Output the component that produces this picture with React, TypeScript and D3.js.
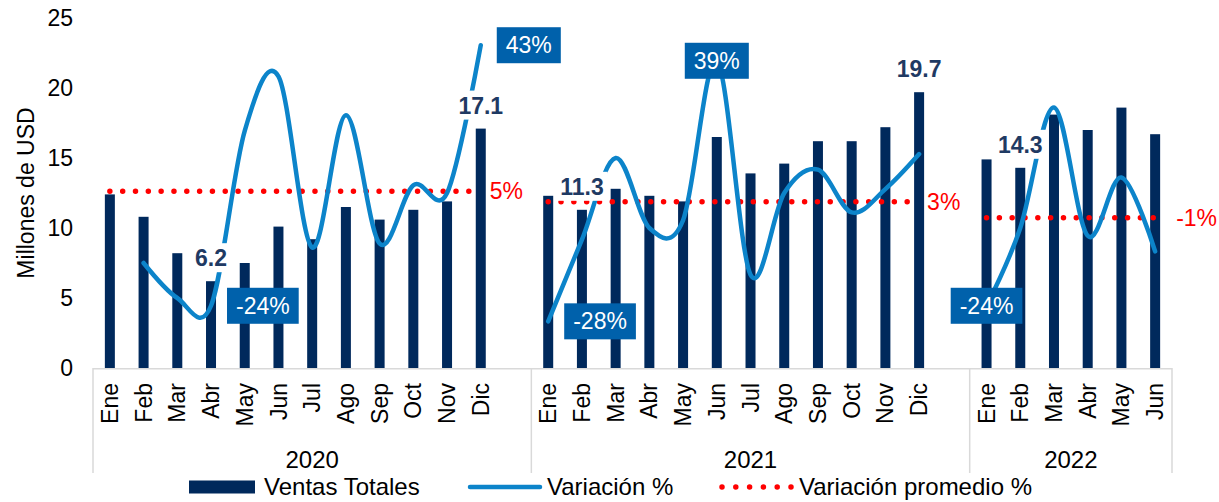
import React from "react";
import * as d3 from "d3";

// ---------- data ----------
const years = ["2020", "2021", "2022"];
const months2020 = ["Ene", "Feb", "Mar", "Abr", "May", "Jun", "Jul", "Ago", "Sep", "Oct", "Nov", "Dic"];
const months2021 = ["Ene", "Feb", "Mar", "Abr", "May", "Jun", "Jul", "Ago", "Sep", "Oct", "Nov", "Dic"];
const months2022 = ["Ene", "Feb", "Mar", "Abr", "May", "Jun"];

const sales2020 = [12.4, 10.8, 8.2, 6.2, 7.5, 10.1, 9.2, 11.5, 10.6, 11.3, 11.9, 17.1];
const sales2021 = [12.3, 11.3, 12.8, 12.3, 11.9, 16.5, 13.9, 14.6, 16.2, 16.2, 17.2, 19.7];
const sales2022 = [14.9, 14.3, 18.1, 17.0, 18.6, 16.7];

const variation2020: (number | null)[] = [null, -0.13, -0.22, -0.24, 0.21, 0.35, -0.09, 0.25, -0.08, 0.07, 0.05, 0.43];
const variation2021: (number | null)[] = [-0.28, -0.07, 0.14, -0.04, -0.02, 0.39, -0.16, 0.05, 0.11, 0.0, 0.06, 0.15];
const variation2022: (number | null)[] = [-0.24, -0.04, 0.27, -0.06, 0.09, -0.1];

const barLabelKeys = ["2020-Abr", "2020-Dic", "2021-Feb", "2021-Dic", "2022-Feb"];
const pctLabelKeys = ["2020-Abr", "2020-Dic", "2021-Ene", "2021-Jun", "2022-Ene"];
const pctLabelPlacement = ["right", "right", "right", "center", "center"];

const yTicks = [0, 5, 10, 15, 20, 25];
const legendLabels = ["Ventas Totales", "Variación %", "Variación promedio %"];
const yTitle = "Millones de USD";

const monthsByYear = [months2020, months2021, months2022];
const salesByYear = [sales2020, sales2021, sales2022];
const variationByYear = [variation2020, variation2021, variation2022];

// ---------- style ----------
const W = 1219;
const H = 502;
const FONT = "'Liberation Sans', Arial, Helvetica, sans-serif";
const BAR = "#00295C";
const LINE = "#0C84CA";
const BOX = "#0061AB";
const RED = "#FF0000";
const NAVY_TXT = "#1F3A63";
const AXIS = "#D9D9D9";
const avgLabelDx = [9, 8, 21];

function measure(text: string, font: string): number {
  const c = document.createElement("canvas").getContext("2d");
  if (!c) return text.length * 12;
  c.font = font;
  return c.measureText(text).width;
}

const fmtPct = (v: number) => `${Math.round(v * 100)}%`;

export default function App() {
  const slots: string[] = [];
  years.forEach((yr, i) => {
    monthsByYear[i].forEach((m) => slots.push(`${yr}-${m}`));
    if (i < years.length - 1) slots.push(`${yr}-gap`);
  });

  const plotLeft = 93;
  const plotRight = 1172;
  const plotTop = 18;
  const plotBottom = 368;

  const x = d3.scaleBand<string>().domain(slots).range([plotLeft, plotRight]).padding(0);
  const cx = (k: string) => (x(k) as number) + x.bandwidth() / 2;
  const y = d3.scaleLinear().domain([0, 25]).range([plotBottom, plotTop]);
  const y2 = d3.scaleLinear().domain([-0.4, 0.5]).range([plotBottom, plotTop]);

  const barW = 10;

  const saleOf: Record<string, number> = {};
  const varOf: Record<string, number | null> = {};
  years.forEach((yr, i) =>
    monthsByYear[i].forEach((m, j) => {
      saleOf[`${yr}-${m}`] = salesByYear[i][j];
      varOf[`${yr}-${m}`] = variationByYear[i][j];
    })
  );

  const lineGen = d3
    .line<{ k: string; v: number | null }>()
    .defined((d) => d.v !== null)
    .x((d) => cx(d.k))
    .y((d) => y2(d.v as number))
    .curve(d3.curveCardinal.tension(0));

  const groupBounds = years.map((yr, i) => {
    const first = `${yr}-${monthsByYear[i][0]}`;
    const start = x(first) as number;
    const end = i < years.length - 1 ? (x(`${years[i + 1]}-${monthsByYear[i + 1][0]}`) as number) : plotRight;
    return [start, end];
  });

  const tickFont = `23px ${FONT}`;
  const boldFont = `bold 23px ${FONT}`;

  const legendY = 487;

  return (
    <svg
      width={W}
      height={H}
      viewBox={`0 0 ${W} ${H}`}
      style={{ position: "absolute", left: 0, top: 0, background: "#fff" }}
      fontFamily={FONT}
    >
      <rect x={0} y={0} width={W} height={H} fill="#fff" />

      {/* y axis ticks */}
      {yTicks.map((t) => (
        <text key={t} x={73} y={y(t)} dy="0.35em" textAnchor="end" fontSize={23} fill="#000">
          {t}
        </text>
      ))}
      <text
        transform={`translate(26,${(plotTop + plotBottom) / 2}) rotate(-90)`}
        textAnchor="middle"
        dy="0.35em"
        fontSize={23}
        fill="#000"
      >
        {yTitle}
      </text>

      {/* bars */}
      {slots
        .filter((k) => saleOf[k] !== undefined)
        .map((k) => (
          <rect key={k} x={cx(k) - barW / 2} y={y(saleOf[k])} width={barW} height={plotBottom - y(saleOf[k])} fill={BAR} />
        ))}

      {/* category axis box */}
      <line x1={plotLeft} x2={plotRight} y1={plotBottom + 0.75} y2={plotBottom + 0.75} stroke={AXIS} strokeWidth={1.5} />
      {[...groupBounds.map((g) => g[0]), plotRight].map((bx, i) => (
        <line key={i} x1={bx} x2={bx} y1={plotBottom} y2={473} stroke={AXIS} strokeWidth={1.5} />
      ))}
      {years.map((yr, i) =>
        monthsByYear[i].map((m) => (
          <text
            key={`${yr}-${m}-lab`}
            transform={`translate(${cx(`${yr}-${m}`)},383) rotate(-90)`}
            textAnchor="end"
            dy="0.35em"
            fontSize={23}
            fill="#000"
          >
            {m}
          </text>
        ))
      )}
      {years.map((yr, i) => (
        <text key={yr} x={(groupBounds[i][0] + groupBounds[i][1]) / 2} y={468} textAnchor="middle" fontSize={24} fill="#000">
          {yr}
        </text>
      ))}

      {/* average dotted lines */}
      {years.map((yr, i) => {
        const avg = d3.mean(variationByYear[i].filter((v) => v !== null) as number[]) as number;
        const ms = monthsByYear[i];
        const x1 = cx(`${yr}-${ms[0]}`);
        const x2 = cx(`${yr}-${ms[ms.length - 1]}`);
        return (
          <g key={`avg-${yr}`}>
            <line
              x1={x1}
              x2={x2}
              y1={y2(avg)}
              y2={y2(avg)}
              stroke={RED}
              strokeWidth={5.5}
              strokeLinecap="round"
              strokeDasharray="0 12.82"
            />
            <text x={x2 + avgLabelDx[i]} y={y2(avg)} dy="0.35em" fontSize={23} fill={RED}>
              {fmtPct(avg)}
            </text>
          </g>
        );
      })}

      {/* variation lines */}
      {years.map((yr, i) => {
        const pts = monthsByYear[i].map((m) => ({ k: `${yr}-${m}`, v: varOf[`${yr}-${m}`] }));
        return (
          <path
            key={`var-${yr}`}
            d={lineGen(pts) || ""}
            fill="none"
            stroke={LINE}
            strokeWidth={4.5}
            strokeLinecap="round"
            strokeLinejoin="round"
          />
        );
      })}

      {/* bar value labels */}
      {barLabelKeys.map((k) => {
        const txt = d3.format(".1f")(saleOf[k]);
        const tw = measure(txt, boldFont);
        const base = y(saleOf[k]) - 15;
        return (
          <g key={`bl-${k}`}>
            <rect x={cx(k) - tw / 2 - 4} y={base - 23} width={tw + 8} height={29} fill="#fff" />
            <text x={cx(k)} y={base} textAnchor="middle" fontSize={23} fontWeight="bold" fill={NAVY_TXT}>
              {txt}
            </text>
          </g>
        );
      })}

      {/* percentage labels */}
      {pctLabelKeys.map((k, i) => {
        const v = varOf[k] as number;
        const txt = fmtPct(v);
        const tw = measure(txt, tickFont);
        const bw = tw + 18;
        const bh = 36;
        const px = cx(k);
        const py = y2(v);
        const left = pctLabelPlacement[i] === "right" ? px + 16 : px - bw / 2;
        return (
          <g key={`pl-${k}`}>
            <rect x={left} y={py - bh / 2} width={bw} height={bh} fill={BOX} />
            <text x={left + bw / 2} y={py} dy="0.35em" textAnchor="middle" fontSize={23} fill="#fff">
              {txt}
            </text>
          </g>
        );
      })}

      {/* legend */}
      <g>
        <rect x={189} y={legendY - 6.5} width={66} height={13} fill={BAR} />
        <text x={264} y={legendY} dy="0.35em" fontSize={24} fill="#000">
          {legendLabels[0]}
        </text>
        <line x1={470} x2={540} y1={legendY} y2={legendY} stroke={LINE} strokeWidth={4.5} strokeLinecap="round" />
        <text x={547} y={legendY} dy="0.35em" fontSize={24} fill="#000">
          {legendLabels[1]}
        </text>
        <line
          x1={722}
          x2={792}
          y1={legendY}
          y2={legendY}
          stroke={RED}
          strokeWidth={5.5}
          strokeLinecap="round"
          strokeDasharray="0 13.8"
        />
        <text x={799} y={legendY} dy="0.35em" fontSize={24} fill="#000">
          {legendLabels[2]}
        </text>
      </g>
    </svg>
  );
}
